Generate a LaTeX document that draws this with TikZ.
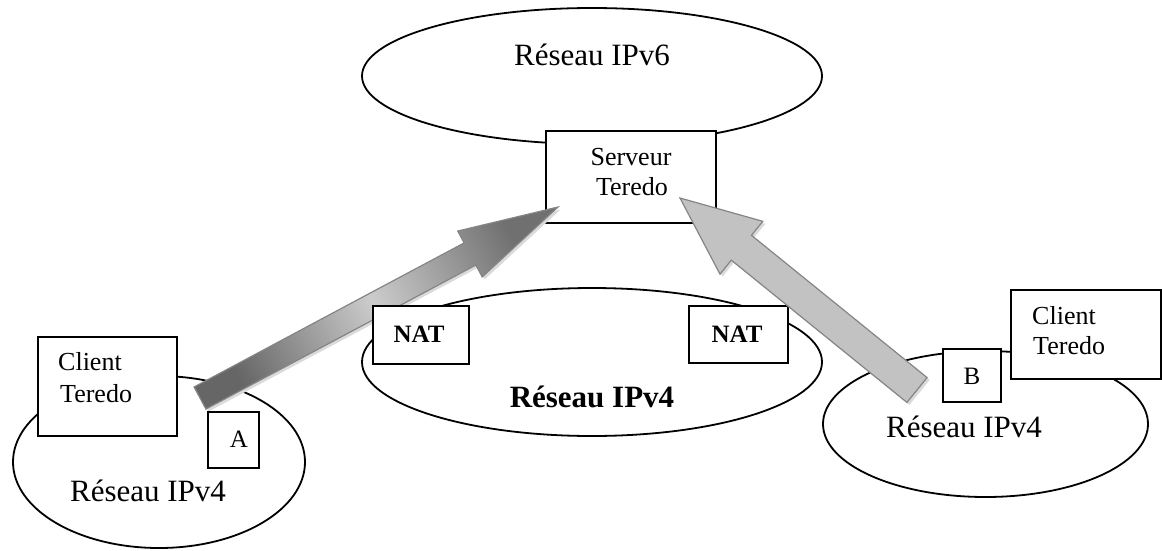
\documentclass[tikz,border=0pt]{standalone}
\usepackage{fontspec}
\setmainfont{Liberation Serif}
\usetikzlibrary{shapes.geometric,calc}
\definecolor{arrowdark}{HTML}{666666}
\definecolor{arrowmid}{HTML}{CCCCCC}
\definecolor{arrowtipgray}{HTML}{707070}
\definecolor{arrowlight}{HTML}{C2C2C2}
\definecolor{arrowedge}{HTML}{858585}
\definecolor{shadowgray}{HTML}{DADADA}
\begin{document}
\begin{tikzpicture}[x=1pt,y=-1pt,
  net/.style={draw, ellipse, line width=1.8pt, inner sep=0pt},
  netlabel/.style={font=\fontsize{31}{31}\selectfont, inner sep=0pt, anchor=base},
  boxnode/.style={draw, fill=white, rectangle, line width=2pt, inner sep=0pt},
  boxlabel/.style={font=\fontsize{26}{26}\selectfont, inner sep=0pt},
  taglabel/.style={font=\fontsize{25}{25}\selectfont, inner sep=0pt, anchor=base},
  natlabel/.style={font=\bfseries\fontsize{25}{25}\selectfont, inner sep=0pt, anchor=base},
  blockarrow/.style={draw=arrowedge, line width=1.2pt, line join=miter},
]
\useasboundingbox (0,0) rectangle (1162,550);

% networks
\node[net, minimum width=460pt, minimum height=136pt] (ipv6) at (592,76) {};
\node[net, minimum width=460pt, minimum height=148pt] (core) at (592,362) {};
\node[net, minimum width=292pt, minimum height=172pt] (leftnet) at (159,462) {};
\node[net, minimum width=325pt, minimum height=146pt] (rightnet) at (985.5,424) {};

\node[netlabel] (ipv6txt) at (592,65) {Réseau IPv6};
\node[netlabel, font=\bfseries\fontsize{31}{31}\selectfont] (coretxt) at (592,407) {Réseau IPv4};
\node[netlabel] (lefttxt) at (148,501) {Réseau IPv4};
\node[netlabel] (righttxt) at (964,437) {Réseau IPv4};

% Teredo server
\node[boxnode, minimum width=170pt, minimum height=92pt] (server) at (631,177) {};
\node[boxlabel, anchor=base] (servera) at (631,165) {Serveur};
\node[boxlabel, anchor=base] (serverb) at (632,195) {Teredo};

% NAT on the right side
\node[boxnode, minimum width=99pt, minimum height=57pt] (natright) at (738.5,334.5) {};
\node[natlabel] (natrighttxt) at (737,342) {NAT};

% arrow from client A to the server
\coordinate (a1tail) at (200,398);
\coordinate (a1tip) at (558,207);
\coordinate (a1neck) at ($(a1tail)!306pt!(a1tip)$);
\coordinate (a1p1) at ($(a1tail)!12.5pt!90:(a1tip)$);
\coordinate (a1p2) at ($(a1neck)!12.5pt!90:(a1tip)$);
\coordinate (a1p3) at ($(a1neck)!26pt!90:(a1tip)$);
\coordinate (a1p5) at ($(a1neck)!26pt!-90:(a1tip)$);
\coordinate (a1p6) at ($(a1neck)!12.5pt!-90:(a1tip)$);
\coordinate (a1p7) at ($(a1tail)!12.5pt!-90:(a1tip)$);
\fill[shadowgray, transform canvas={shift={(2.5pt,-2.5pt)}}]
  (a1p1) -- (a1p2) -- (a1p3) -- (a1tip) -- (a1p5) -- (a1p6) -- (a1p7) -- cycle;
\path[blockarrow, left color=arrowdark, right color=arrowtipgray, middle color=arrowmid, shading angle=118]
  (a1p1) -- (a1p2) -- (a1p3) -- (a1tip) -- (a1p5) -- (a1p6) -- (a1p7) -- cycle;

% arrow from client B to the server
\coordinate (a2tail) at (917,390);
\coordinate (a2tip) at (680,198);
\coordinate (a2neck) at ($(a2tail)!226pt!(a2tip)$);
\coordinate (a2p1) at ($(a2tail)!16pt!90:(a2tip)$);
\coordinate (a2p2) at ($(a2neck)!16pt!90:(a2tip)$);
\coordinate (a2p3) at ($(a2neck)!34pt!90:(a2tip)$);
\coordinate (a2p5) at ($(a2neck)!34pt!-90:(a2tip)$);
\coordinate (a2p6) at ($(a2neck)!16pt!-90:(a2tip)$);
\coordinate (a2p7) at ($(a2tail)!16pt!-90:(a2tip)$);
\fill[shadowgray, transform canvas={shift={(2.5pt,-2.5pt)}}]
  (a2p1) -- (a2p2) -- (a2p3) -- (a2tip) -- (a2p5) -- (a2p6) -- (a2p7) -- cycle;
\path[blockarrow, fill=arrowlight]
  (a2p1) -- (a2p2) -- (a2p3) -- (a2tip) -- (a2p5) -- (a2p6) -- (a2p7) -- cycle;

% NAT on the left side
\node[boxnode, minimum width=96pt, minimum height=58pt] (natleft) at (421,335) {};
\node[natlabel] (natlefttxt) at (419,342) {NAT};

% Teredo clients
\node[boxnode, minimum width=139pt, minimum height=99pt] (clientleft) at (107.5,386.5) {};
\node[boxlabel, anchor=base west] (clientlefta) at (58,370) {Client};
\node[boxlabel, anchor=base west] (clientleftb) at (60,402) {Teredo};

\node[boxnode, minimum width=150pt, minimum height=89pt] (clientright) at (1086,334.5) {};
\node[boxlabel, anchor=base west] (clientrighta) at (1032,324) {Client};
\node[boxlabel, anchor=base west] (clientrightb) at (1033,354) {Teredo};

% tags A and B
\node[boxnode, minimum width=51pt, minimum height=56pt] (taga) at (233.5,440) {};
\node[taglabel] (tagatxt) at (239,447) {A};
\node[boxnode, minimum width=58pt, minimum height=53pt] (tagb) at (972,375.5) {};
\node[taglabel] (tagbtxt) at (972,384) {B};
\end{tikzpicture}
\end{document}
